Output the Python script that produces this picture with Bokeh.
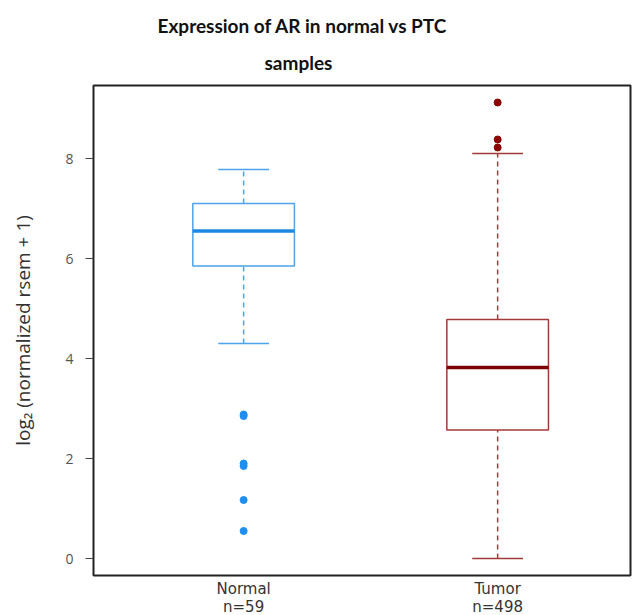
from bokeh.plotting import figure
from bokeh.models import ColumnDataSource, FixedTicker, Range1d, Title
from bokeh.embed import file_html
from bokeh.resources import INLINE

groups = ["Normal", "Tumor"]
counts = [59, 498]
xpos = [1, 2]
q1 = [5.85, 2.57]
median = [6.55, 3.82]
q3 = [7.10, 4.78]
lower = [4.30, 0.00]
upper = [7.78, 8.10]
normal_outliers = [2.88, 2.85, 1.90, 1.85, 1.17, 0.55]
tumor_outliers = [9.12, 8.38, 8.22]
title_lines = ["Expression of AR in normal vs PTC", "samples"]

box_colors = ["#4da3ec", "#a33a3a"]
median_colors = ["#1e88e5", "#7f0000"]
point_colors = ["#1e8ff0", "#8b0000"]

box_w = 0.40
cap_w = 0.20

p = figure(width=638, height=612, output_backend="svg", toolbar_location=None,
           frame_width=537, frame_height=490,
           x_range=Range1d(0.409, 2.523), y_range=Range1d(-0.34, 9.46),
           min_border_left=93, min_border_right=8, min_border_top=85, min_border_bottom=37,
           title=None)

src = ColumnDataSource(dict(
    x=xpos, q1=q1, q3=q3, med=median, lo=lower, up=upper,
    bl=[x - box_w / 2 for x in xpos], br=[x + box_w / 2 for x in xpos],
    cl=[x - cap_w / 2 for x in xpos], cr=[x + cap_w / 2 for x in xpos],
    bc=box_colors, mc=median_colors,
))

# whiskers
p.segment(x0="x", y0="q3", x1="x", y1="up", source=src, line_color="bc", line_width=1.5, line_dash="5 4")
p.segment(x0="x", y0="lo", x1="x", y1="q1", source=src, line_color="bc", line_width=1.5, line_dash="5 4")
# caps
p.segment(x0="cl", y0="up", x1="cr", y1="up", source=src, line_color="bc", line_width=1.5)
p.segment(x0="cl", y0="lo", x1="cr", y1="lo", source=src, line_color="bc", line_width=1.5)
# boxes
p.quad(left="bl", right="br", bottom="q1", top="q3", source=src, fill_color="white",
       line_color="bc", line_width=1.5)
# medians
p.segment(x0="bl", y0="med", x1="br", y1="med", source=src, line_color="mc", line_width=3.5)

# outliers
p.scatter([1] * len(normal_outliers), normal_outliers, size=7, color=point_colors[0])
p.scatter([2] * len(tumor_outliers), tumor_outliers, size=7, color=point_colors[1])

# two-line title, each line centred
t2 = Title(text=title_lines[1], align="left", offset=171, text_font="Lato",
           text_font_size="19px", text_font_style="bold", text_color="#111111", standoff=24)
t1 = Title(text=title_lines[0], align="left", offset=64, text_font="Lato",
           text_font_size="19px", text_font_style="bold", text_color="#111111", standoff=0)
p.add_layout(t2, "above")
p.add_layout(t1, "above")

p.outline_line_color = "#222222"
p.outline_line_width = 2
p.xgrid.visible = False
p.ygrid.visible = False

p.yaxis.ticker = FixedTicker(ticks=[0, 2, 4, 6, 8])
p.yaxis.axis_line_color = None
p.yaxis.major_tick_out = 8
p.yaxis.major_tick_in = 0
p.yaxis.minor_tick_line_color = None
p.yaxis.major_tick_line_color = "#444444"
p.yaxis.major_label_text_font = "Open Sans"
p.yaxis.major_label_text_font_size = "14px"
p.yaxis.major_label_text_color = "#555555"
p.yaxis.major_label_standoff = 12
p.yaxis.axis_label = "log\u2082 (normalized rsem + 1)"
p.yaxis.axis_label_text_font = "Open Sans"
p.yaxis.axis_label_text_font_style = "normal"
p.yaxis.axis_label_text_font_size = "19px"
p.yaxis.axis_label_text_color = "#333333"
p.yaxis.axis_label_standoff = 26

p.xaxis.ticker = FixedTicker(ticks=xpos)
p.xaxis.major_label_overrides = {x: f"{g}\nn={n}" for x, g, n in zip(xpos, groups, counts)}
p.xaxis.axis_line_color = None
p.xaxis.major_tick_line_color = None
p.xaxis.minor_tick_line_color = None
p.xaxis.major_tick_out = 0
p.xaxis.major_label_standoff = 4
p.xaxis.major_label_text_font = "DejaVu Sans"
p.xaxis.major_label_text_font_size = "15px"
p.xaxis.major_label_text_color = "#333333"
p.xaxis.major_label_text_line_height = 1.0

open("out.html", "w").write(file_html(p, INLINE))
